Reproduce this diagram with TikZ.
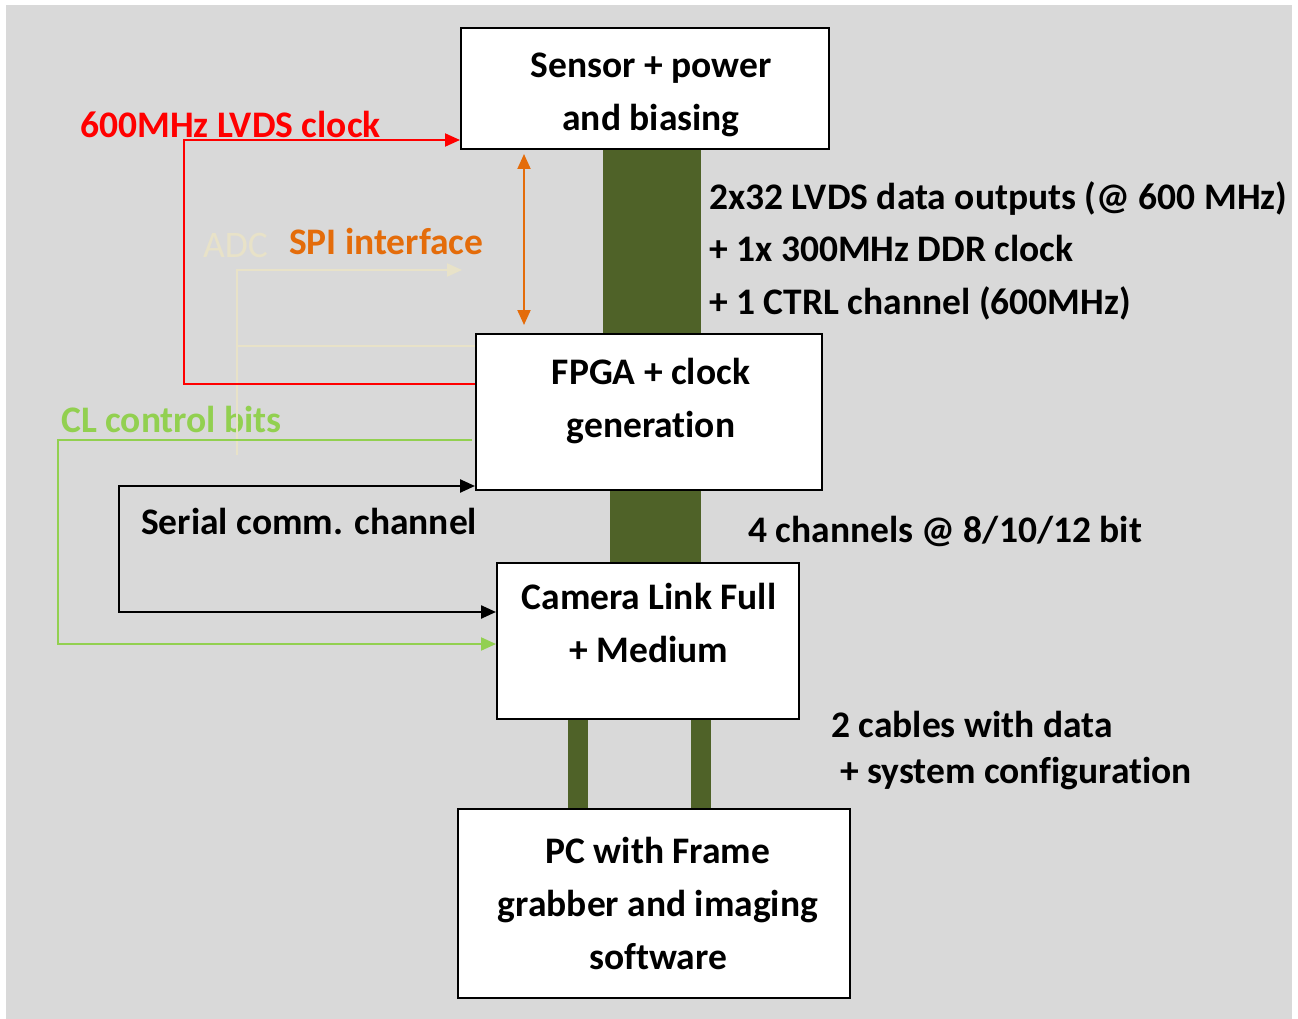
\documentclass[tikz,border=0pt]{standalone}
\usepackage{fontspec}
\setmainfont[Ligatures=NoCommon]{Carlito}
\usetikzlibrary{arrows.meta}
\definecolor{bggray}{HTML}{D9D9D9}
\definecolor{bargreen}{HTML}{4F6228}
\definecolor{spiorange}{HTML}{E46C0A}
\definecolor{clgreen}{HTML}{92D050}
\definecolor{faintc}{RGB}{232,226,200}
\pgfdeclarelayer{back}
\pgfsetlayers{back,main}
\begin{document}
\begin{tikzpicture}[x=1pt,y=-1pt,
  box/.style={draw=black,line width=2pt,fill=white,inner sep=0pt},
  boxtxt/.style={align=center,inner sep=0pt,font=\fontsize{37.5}{53}\selectfont\bfseries},
  lbl/.style={anchor=base west,inner sep=0pt,font=\fontsize{37.5}{44}\selectfont\bfseries},
  tipa/.style={-{Triangle[length=15pt,width=13pt]}},
  tipb/.style={{Triangle[length=15pt,width=13pt]}-{Triangle[length=15pt,width=13pt]}},
  bar/.style={draw=bargreen},
  redl/.style={draw=red,line width=2pt},
  orl/.style={draw=spiorange,line width=2pt},
  grl/.style={draw=clgreen,line width=2pt},
  blkl/.style={draw=black,line width=2.4pt},
  fntl/.style={draw=faintc,line width=2pt}
]
\useasboundingbox (0,0) rectangle (1298,1019);

% boxes
\node[box,minimum width=368pt,minimum height=121pt] (sensor) at (645,88.5) {};
\node[box,minimum width=346pt,minimum height=156pt] (fpga) at (649,412) {};
\node[box,minimum width=302pt,minimum height=156pt] (cl) at (648,641) {};
\node[box,minimum width=392pt,minimum height=189pt] (pc) at (654,903.5) {};

% box texts
\node[boxtxt] (sensortxt) at (651,95) {Sensor + power\\and biasing};
\node[boxtxt] (fpgatxt) at (651,401) {FPGA + clock\\generation};
\node[boxtxt] (cltxt) at (649,623) {Camera Link Full\\+ Medium};
\node[boxtxt] (pctxt) at (658,903) {PC with Frame\\grabber and imaging\\software};

% labels
\node[lbl] (d1) at (709,209.5) {2x32 LVDS data outputs (@ 600 MHz)};
\node[lbl] (d2) at (709,261.5) {+ 1x 300MHz DDR clock};
\node[lbl] (d3) at (709,314) {+ 1 CTRL channel (600MHz)};
\node[lbl] (d4) at (748,542.5) {4 channels @ 8/10/12 bit};
\node[lbl] (d5) at (831,737.5) {2 cables with data};
\node[lbl] (d6) at (840,783.5) {+ system configuration};
\node[lbl,text=red] (lclk) at (80,138) {600MHz LVDS clock};
\node[lbl,text=spiorange] (lspi) at (289,254) {SPI interface};
\node[lbl,text=faintc,font=\fontsize{37.5}{44}\selectfont] (ladc) at (203,257) {ADC};
\node[lbl,text=clgreen] (lcl) at (61,432) {CL control bits};
\node[lbl] (lser) at (141,534) {Serial comm. channel};

% background and data bars
\begin{pgfonlayer}{back}
\fill[bggray] (6,5) rectangle (1292,1019);
\draw[bar,line width=98pt] ([xshift=7pt]sensor.south) -- ([xshift=7pt]sensor.south |- fpga.north);
\draw[bar,line width=91pt] ([xshift=6.5pt]fpga.south) -- ([xshift=6.5pt]fpga.south |- cl.north);
\draw[bar,line width=19.5pt] ([xshift=-70pt]cl.south) -- ([xshift=-70pt]cl.south |- pc.north);
\draw[bar,line width=19.5pt] ([xshift=53pt]cl.south) -- ([xshift=53pt]cl.south |- pc.north);
\end{pgfonlayer}

% connectors
\coordinate (adcend) at (462,270);
\coordinate (adcbot) at (237,455);
\draw[fntl,tipa] (adcbot) -- (237,270) -- (adcend);
\draw[fntl] (237,346) -- ([yshift=66pt]fpga.west);

\draw[redl,tipa] ([yshift=28pt]fpga.west) -- (184,384) |- ([yshift=-51.5pt]sensor.west);
\draw[orl,tipb] ([xshift=64pt,yshift=-4pt]sensor.south west) -- ([xshift=49pt,yshift=8pt]fpga.north west);
\draw[grl,tipa] ([yshift=-28pt,xshift=-3pt]fpga.west) -- (58,440) |- ([yshift=-3pt]cl.west);
\draw[blkl,tipb] ([yshift=-74pt]fpga.west) -- (119,486) -- (119,612) -- ([yshift=29pt]cl.west);
\end{tikzpicture}
\end{document}
